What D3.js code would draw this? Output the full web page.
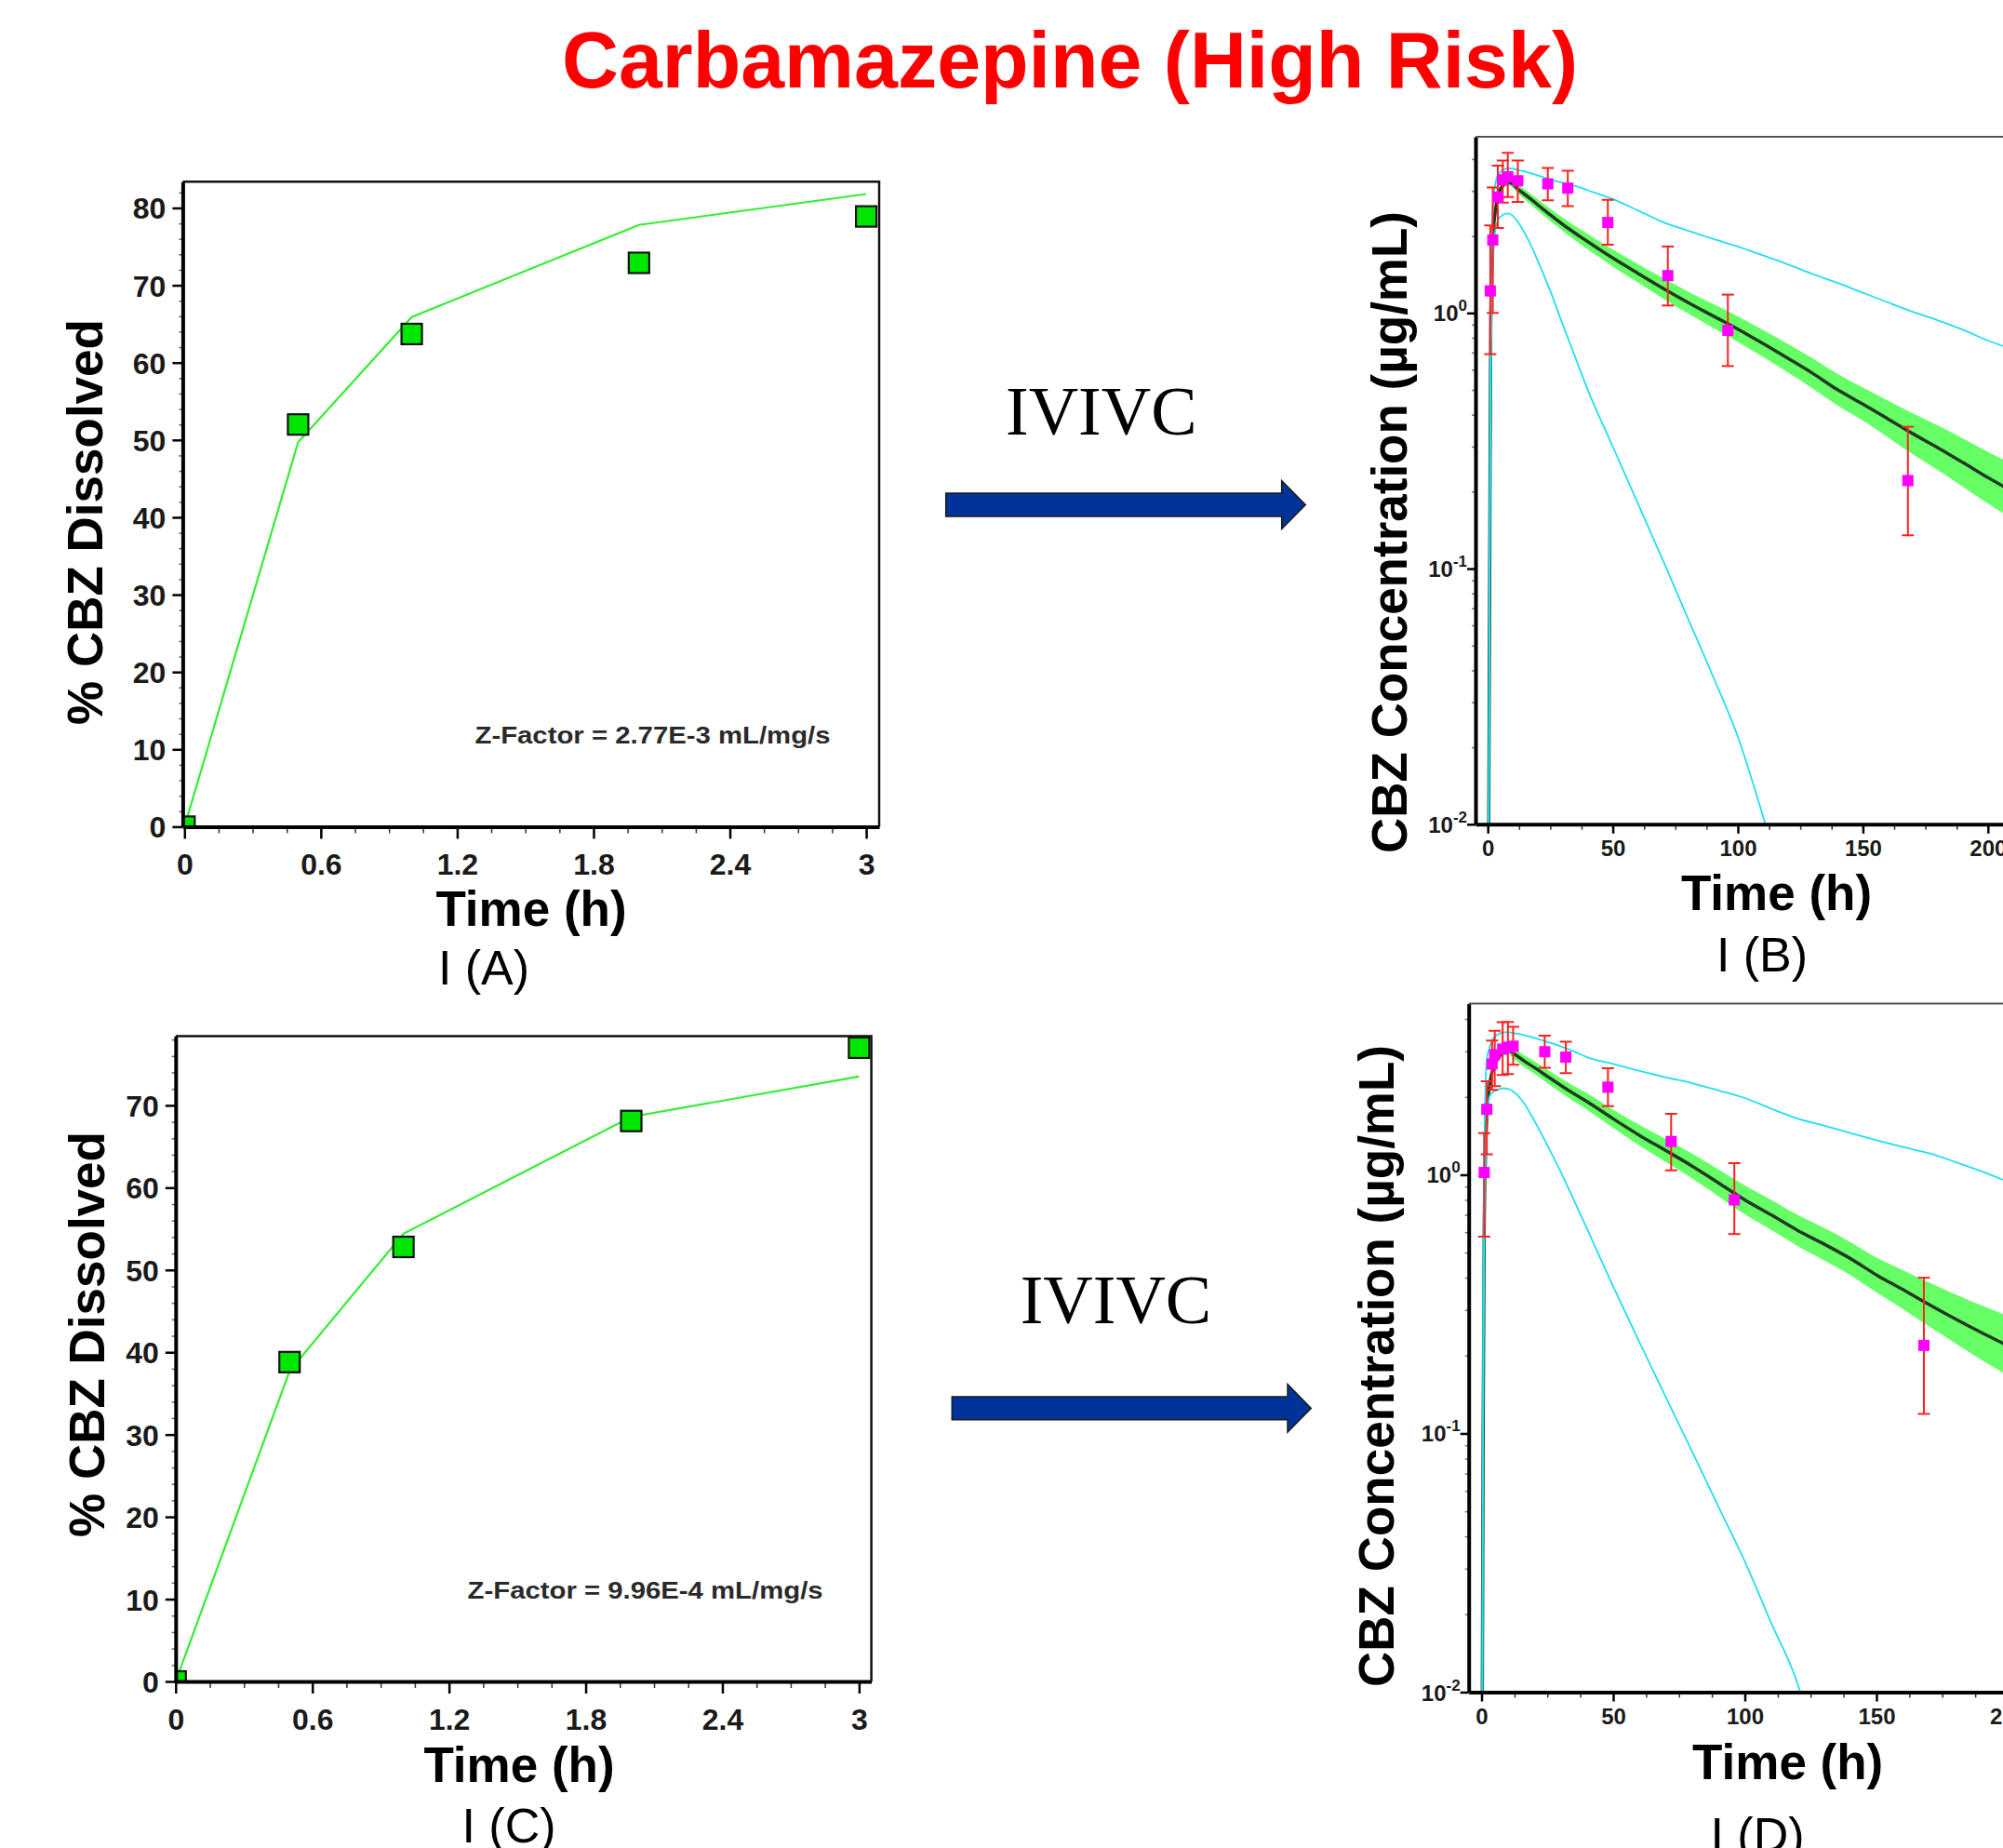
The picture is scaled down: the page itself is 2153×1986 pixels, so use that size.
<!DOCTYPE html>
<html><head><meta charset="utf-8">
<script src="https://cdn.jsdelivr.net/npm/d3@7"></script>
<style>html,body{margin:0;padding:0;background:#fff;overflow:hidden;}svg{display:block;}</style>
</head><body>
<svg id="c" width="2153" height="1986"></svg>
<script>
// ---------------- DATA ----------------
// Dissolution panels (A, C)
const dissTicks = [0, 0.6, 1.2, 1.8, 2.4, 3];
const dissTickLabels = ["0", "0.6", "1.2", "1.8", "2.4", "3"];
const dissObsTime = [0, 0.5, 1, 2, 3];
const dissObsA = [0, 52.0, 63.7, 72.9, 78.9];
const dissPredA = [0, 49.7, 65.9, 77.8, 81.8];
const dissObsC = [0, 38.8, 52.8, 68.1, 77.0];
const dissPredC = [0, 37.7, 54.4, 68.6, 73.5];
const yTicksA = [0, 10, 20, 30, 40, 50, 60, 70, 80];
const yTicksC = [0, 10, 20, 30, 40, 50, 60, 70];
const zFactorA = "Z-Factor = 2.77E-3 mL/mg/s";
const zFactorC = "Z-Factor = 9.96E-4 mL/mg/s";

// PK panels (B, D)
const pkTicks = [0, 50, 100, 150, 200];
const pkTickLabels = ["0", "50", "100", "150", "200"];
const pkDecades = [0.01, 0.1, 1];
const pkDecadeExp = ["-2", "-1", "0"];

// Panel B observed
const obsTimeB = [1, 2, 4, 6, 8, 12, 24, 32, 48, 72, 96, 168];
const obsB    = [1.22, 1.93, 2.84, 3.32, 3.41, 3.29, 3.20, 3.08, 2.26, 1.40, 0.855, 0.221];
const obsLoB  = [0.69, 1.00, 2.15, 2.70, 2.84, 2.72, 2.76, 2.62, 1.85, 1.07, 0.62, 0.135];
const obsHiB  = [2.20, 3.10, 3.77, 3.95, 4.23, 3.95, 3.69, 3.60, 2.77, 1.82, 1.18, 0.359];
// Panel B simulated
const simTimeB = [0.4,0.8,1.2,2,3,4,6,8,10,12,16,20,25,30,35,40,50,60,70,80,90,100,110,120,130,140,150,160,170,180,190,200,210,220];
const medB    = [0.01,0.12,0.9,1.9,2.5,2.85,3.15,3.25,3.2,3.06,2.85,2.65,2.42,2.22,2.05,1.9,1.64,1.43,1.25,1.10,0.975,0.865,0.76,0.665,0.58,0.5,0.44,0.385,0.337,0.297,0.26,0.227,0.2,0.176];
const bandHiB = [0.0102,0.123,0.932,1.967,2.588,2.95,3.261,3.364,3.312,3.189,2.984,2.788,2.557,2.357,2.187,2.036,1.769,1.554,1.371,1.215,1.086,0.971,0.859,0.757,0.664,0.577,0.511,0.454,0.405,0.363,0.323,0.286,0.256,0.229];
const bandLoB = [0.0098,0.117,0.869,1.836,2.415,2.753,3.043,3.14,3.091,2.936,2.722,2.519,2.29,2.091,1.922,1.773,1.52,1.316,1.14,0.996,0.875,0.771,0.673,0.585,0.506,0.434,0.379,0.326,0.280,0.243,0.209,0.180,0.156,0.135];
const upperB  = [0.01,0.2,1.3,2.6,3.2,3.45,3.62,3.68,3.67,3.63,3.55,3.45,3.33,3.23,3.14,3.02,2.79,2.52,2.27,2.1,1.95,1.82,1.68,1.55,1.42,1.31,1.2,1.1,1.01,0.935,0.86,0.78,0.72,0.665];
const lowTimeB = [0.4,0.8,1.2,2,3,4,6,8,10,12,16,20,25,30,35,40,50,60,70,80,90,100,110,112];
const lowerB  = [0.01,0.1,0.5,1.5,2.1,2.3,2.42,2.45,2.4,2.27,1.95,1.6,1.22,0.9,0.67,0.5,0.3,0.18,0.108,0.064,0.038,0.022,0.0108,0.0093];

// Panel D observed
const obsTimeD = [1, 2, 4, 5, 8, 10, 12, 24, 32, 48, 72, 96, 168];
const obsD    = [1.02, 1.79, 2.68, 2.91, 3.06, 3.11, 3.14, 2.99, 2.85, 2.18, 1.345, 0.80, 0.219];
const obsLoD  = [0.577, 1.2, 2.13, 2.2, 2.43, 2.45, 2.66, 2.59, 2.47, 1.84, 1.04, 0.59, 0.119];
const obsHiD  = [1.45, 2.3, 3.3, 3.6, 3.89, 3.9, 3.73, 3.45, 3.27, 2.58, 1.72, 1.11, 0.40];
// Panel D simulated
const simTimeD = [0.3,0.6,1,1.5,2,3,4,6,8,10,12,16,20,25,30,35,40,50,60,70,80,90,100,110,120,130,140,150,160,170,180,190,200,210];
const medD    = [0.01,0.1,0.6,1.2,1.7,2.2,2.5,2.8,2.97,3.03,2.95,2.76,2.6,2.4,2.22,2.06,1.92,1.645,1.42,1.24,1.08,0.93,0.80,0.70,0.61,0.54,0.475,0.41,0.36,0.315,0.277,0.245,0.218,0.193];
const bandHiD = [0.0104,0.1035,0.621,1.242,1.76,2.277,2.588,2.898,3.074,3.136,3.089,2.904,2.748,2.548,2.368,2.207,2.067,1.783,1.557,1.372,1.206,1.048,0.910,0.800,0.700,0.623,0.550,0.478,0.428,0.383,0.345,0.312,0.284,0.257];
const bandLoD = [0.0097,0.0966,0.58,1.159,1.642,2.125,2.415,2.705,2.869,2.927,2.817,2.624,2.46,2.261,2.081,1.923,1.784,1.518,1.295,1.121,0.967,0.825,0.703,0.612,0.531,0.468,0.41,0.351,0.303,0.259,0.223,0.192,0.167,0.145];
const upperD  = [0.01,0.3,1.2,2.2,2.8,3.1,3.3,3.48,3.55,3.56,3.53,3.47,3.38,3.26,3.14,3.0,2.85,2.68,2.52,2.38,2.26,2.12,1.98,1.8,1.65,1.55,1.45,1.36,1.28,1.21,1.12,1.03,0.94,0.87];
const lowTimeD = [0.3,0.6,1,1.5,2,3,4,6,8,10,12,16,20,25,30,35,40,50,60,70,80,90,100,110,120,122];
const lowerD  = [0.01,0.1,0.5,1.1,1.6,2.0,2.07,2.13,2.16,2.15,2.1,1.9,1.62,1.3,1.03,0.8,0.62,0.37,0.225,0.138,0.085,0.052,0.032,0.0185,0.0108,0.0093];

// ---------------- DRAWING ----------------
const SANS = "'Liberation Sans', Arial, Helvetica, sans-serif";
const SERIF = "'Liberation Serif', 'Times New Roman', serif";
const svg = d3.select('#c');
svg.append('rect').attr('width', 2153).attr('height', 1986).attr('fill', '#fff');

svg.append('text').attr('x', 1150).attr('y', 94).attr('text-anchor', 'middle')
  .attr('font-family', SANS).attr('font-weight', 'bold').attr('font-size', 86)
  .attr('textLength', 1092).attr('lengthAdjust', 'spacingAndGlyphs')
  .attr('fill', '#ff0000').text('Carbamazepine (High Risk)');

function titles(o) {
  svg.append('text').attr('x', o.xtX).attr('y', o.xtY).attr('text-anchor', 'middle')
    .attr('font-family', SANS).attr('font-weight', 'bold').attr('font-size', 53).attr('fill', '#000').text('Time (h)');
  svg.append('text').attr('x', o.subX).attr('y', o.subY).attr('text-anchor', 'middle')
    .attr('font-family', SANS).attr('font-size', 52).attr('fill', '#000').text(o.sub);
  svg.append('text').attr('transform', `translate(${o.ytX},${o.ytY}) rotate(-90)`).attr('text-anchor', 'middle')
    .attr('font-family', SANS).attr('font-weight', 'bold').attr('font-size', 53).attr('fill', '#000').text(o.yTitle);
}

function dissPanel(o) {
  const x = d3.scaleLinear().domain(o.xDom).range([o.left, o.right]);
  const y = d3.scaleLinear().domain(o.yDom).range([o.bottom, o.top]);
  const cid = 'clip' + o.id;
  svg.append('clipPath').attr('id', cid).append('rect')
    .attr('x', o.left).attr('y', o.top).attr('width', o.right - o.left).attr('height', o.bottom - o.top);
  const g = svg.append('g');
  g.append('path').datum(d3.zip(dissObsTime, o.pred)).attr('clip-path', `url(#${cid})`)
    .attr('d', d3.line().x(d => x(d[0])).y(d => y(d[1])))
    .attr('fill', 'none').attr('stroke', '#33ee33').attr('stroke-width', 2.2);
  g.append('g').attr('clip-path', `url(#${cid})`).selectAll('rect').data(d3.zip(dissObsTime, o.obs)).join('rect')
    .attr('x', d => x(d[0]) - 11).attr('y', d => y(d[1]) - 11).attr('width', 22).attr('height', 22)
    .attr('fill', '#00e600').attr('stroke', '#111').attr('stroke-width', 2.2);

  // minor ticks
  const xMinor = d3.range(0, 3.01, 0.15).filter(v => Math.abs(v / 0.6 - Math.round(v / 0.6)) > 1e-6);
  g.append('g').attr('transform', `translate(0,${o.bottom})`)
    .call(d3.axisBottom(x).tickValues(xMinor).tickSize(7).tickFormat(''))
    .call(s => { s.select('.domain').remove(); s.selectAll('line').attr('stroke', '#333').attr('stroke-width', 1.5); });
  const yMinor = d3.range(0, o.yDom[1], 2).filter(v => v % 10 !== 0);
  g.append('g').attr('transform', `translate(${o.left},0)`)
    .call(d3.axisLeft(y).tickValues(yMinor).tickSize(4).tickFormat(''))
    .call(s => { s.select('.domain').remove(); s.selectAll('line').attr('stroke', '#666').attr('stroke-width', 1.5); });

  const xa = g.append('g').attr('transform', `translate(0,${o.bottom})`)
    .call(d3.axisBottom(x).tickValues(dissTicks).tickFormat((d, i) => dissTickLabels[i]).tickSize(13).tickSizeOuter(0));
  xa.select('.domain').attr('stroke', '#000').attr('stroke-width', 4);
  xa.selectAll('.tick line').attr('stroke', '#000').attr('stroke-width', 2.5);
  xa.selectAll('text').attr('y', 52).attr('dy', null).attr('font-family', SANS).attr('font-weight', 'bold')
    .attr('font-size', 32).attr('fill', '#1a1a1a');

  const ya = g.append('g').attr('transform', `translate(${o.left},0)`)
    .call(d3.axisLeft(y).tickValues(o.yTicks).tickFormat(d3.format('d')).tickSize(11).tickSizeOuter(0));
  ya.select('.domain').attr('stroke', '#000').attr('stroke-width', 4);
  ya.selectAll('.tick line').attr('stroke', '#000').attr('stroke-width', 2.5);
  ya.selectAll('text').attr('x', -18).attr('dy', '0.36em').attr('font-family', SANS).attr('font-weight', 'bold')
    .attr('font-size', 32).attr('fill', '#1a1a1a');

  g.append('path').attr('d', `M${o.left},${o.top}H${o.right}V${o.bottom}`)
    .attr('fill', 'none').attr('stroke', '#111').attr('stroke-width', 2.5);

  svg.append('text').attr('x', o.zX).attr('y', o.zY).attr('font-family', SANS).attr('font-weight', 'bold')
    .attr('font-size', 25).attr('textLength', 382).attr('lengthAdjust', 'spacingAndGlyphs')
    .attr('fill', '#2a2a2a').text(o.zText);
  titles(o);
}

function pkPanel(o) {
  const xmax = 240;
  const x = d3.scaleLinear().domain([o.xmin, xmax]).range([o.left, o.left + (xmax - o.xmin) * o.pxPerH]);
  const y = d3.scaleLog().domain([0.01, o.ymax]).range([o.bottom, o.top]);
  const right = x(xmax);
  const cid = 'clip' + o.id;
  svg.append('clipPath').attr('id', cid).append('rect')
    .attr('x', o.left).attr('y', o.top).attr('width', right - o.left).attr('height', o.bottom - o.top);
  const g = svg.append('g').attr('clip-path', `url(#${cid})`);

  const band = d3.range(o.simT.length).map(i => [o.simT[i], o.lo[i], o.hi[i]]);
  g.append('path').datum(band)
    .attr('d', d3.area().x(d => x(d[0])).y0(d => y(d[1])).y1(d => y(d[2])).curve(d3.curveMonotoneX))
    .attr('fill', '#66ff66');
  g.append('path').datum(d3.zip(o.simT, o.med))
    .attr('d', d3.line().x(d => x(d[0])).y(d => y(d[1])).curve(d3.curveMonotoneX))
    .attr('fill', 'none').attr('stroke', '#1f3a1f').attr('stroke-width', 3.5);
  g.append('path').datum(d3.zip(o.simT, o.up))
    .attr('d', d3.line().x(d => x(d[0])).y(d => y(d[1])).curve(d3.curveMonotoneX))
    .attr('fill', 'none').attr('stroke', '#22dfee').attr('stroke-width', 1.8);
  g.append('path').datum(d3.zip(o.lowT, o.low))
    .attr('d', d3.line().x(d => x(d[0])).y(d => y(d[1])).curve(d3.curveMonotoneX))
    .attr('fill', 'none').attr('stroke', '#22dfee').attr('stroke-width', 1.8);

  const obs = d3.range(o.obsT.length).map(i => ({t: o.obsT[i], v: o.obs[i], lo: o.obsLo[i], hi: o.obsHi[i]}));
  const eb = g.append('g').attr('stroke', '#ff2020').attr('stroke-width', 2);
  eb.selectAll('line.s').data(obs).join('line').attr('class', 's')
    .attr('x1', d => x(d.t)).attr('x2', d => x(d.t)).attr('y1', d => y(d.lo)).attr('y2', d => y(d.hi));
  eb.selectAll('line.a').data(obs).join('line').attr('class', 'a')
    .attr('x1', d => x(d.t) - 6.5).attr('x2', d => x(d.t) + 6.5).attr('y1', d => y(d.hi)).attr('y2', d => y(d.hi));
  eb.selectAll('line.b').data(obs).join('line').attr('class', 'b')
    .attr('x1', d => x(d.t) - 6.5).attr('x2', d => x(d.t) + 6.5).attr('y1', d => y(d.lo)).attr('y2', d => y(d.lo));
  g.append('g').selectAll('rect').data(obs).join('rect')
    .attr('x', d => x(d.t) - 6).attr('y', d => y(d.v) - 6).attr('width', 12).attr('height', 12)
    .attr('fill', '#ff00ff');

  // axes
  const a = svg.append('g');
  const xMinor = d3.range(0, xmax + 0.1, 12.5).filter(v => v % 50 !== 0);
  a.append('g').attr('transform', `translate(0,${o.bottom})`)
    .call(d3.axisBottom(x).tickValues(xMinor).tickSize(6).tickFormat(''))
    .call(s => { s.select('.domain').remove(); s.selectAll('line').attr('stroke', '#333').attr('stroke-width', 1.5); });
  const xa = a.append('g').attr('transform', `translate(0,${o.bottom})`)
    .call(d3.axisBottom(x).tickValues(pkTicks).tickFormat((d, i) => pkTickLabels[i]).tickSize(10).tickSizeOuter(0));
  xa.select('.domain').attr('stroke', '#000').attr('stroke-width', 4);
  xa.selectAll('.tick line').attr('stroke', '#000').attr('stroke-width', 2.5);
  xa.selectAll('text').attr('y', 34).attr('dy', null).attr('font-family', SANS).attr('font-weight', 'bold')
    .attr('font-size', 24).attr('fill', '#1a1a1a');

  const yMinor = [];
  pkDecades.forEach(dv => { for (let k = 2; k <= 9; k++) { if (k * dv <= o.ymax) yMinor.push(k * dv); } });
  a.append('g').attr('transform', `translate(${o.left},0)`)
    .call(d3.axisLeft(y).tickValues(yMinor).tickSize(4).tickFormat(''))
    .call(s => { s.select('.domain').remove(); s.selectAll('line').attr('stroke', '#777').attr('stroke-width', 1.5); });
  const ya = a.append('g').attr('transform', `translate(${o.left},0)`)
    .call(d3.axisLeft(y).tickValues(pkDecades).tickFormat('').tickSize(9).tickSizeOuter(0));
  ya.select('.domain').attr('stroke', '#000').attr('stroke-width', 4);
  ya.selectAll('.tick line').attr('stroke', '#000').attr('stroke-width', 2.5);
  pkDecades.forEach((dv, i) => {
    const t = a.append('text').attr('x', o.left - 9).attr('y', y(dv) + 9).attr('text-anchor', 'end')
      .attr('font-family', SANS).attr('font-weight', 'bold').attr('fill', '#1a1a1a');
    t.append('tspan').attr('font-size', 24).text('10');
    t.append('tspan').attr('font-size', 17).attr('dy', -11).text(pkDecadeExp[i]);
  });
  a.append('line').attr('x1', o.left).attr('x2', right).attr('y1', o.top).attr('y2', o.top)
    .attr('stroke', '#555').attr('stroke-width', 2);
  titles(o);
}

dissPanel({id: 'A', xDom: [-0.0078, 3.057], yDom: [0, 83.4], left: 196.4, right: 945, top: 195.2, bottom: 888.4,
  obs: dissObsA, pred: dissPredA, yTicks: yTicksA, zText: zFactorA, zX: 510.5, zY: 799,
  xtX: 571, xtY: 995, sub: 'I (A)', subX: 520, subY: 1058, ytX: 110, ytY: 561, yTitle: '% CBZ Dissolved'});
dissPanel({id: 'C', xDom: [0, 3.054], yDom: [0, 78.4], left: 188.8, right: 936.6, top: 1113.6, bottom: 1807,
  obs: dissObsC, pred: dissPredC, yTicks: yTicksC, zText: zFactorC, zX: 502.6, zY: 1718,
  xtX: 558, xtY: 1915, sub: 'I (C)', subX: 547, subY: 1980, ytX: 111.5, ytY: 1434, yTitle: '% CBZ Dissolved'});

pkPanel({id: 'B', left: 1586, xmin: -4.91, pxPerH: 2.688, top: 147, bottom: 885.8, ymax: 4.89,
  simT: simTimeB, med: medB, lo: bandLoB, hi: bandHiB, up: upperB, lowT: lowTimeB, low: lowerB,
  obsT: obsTimeB, obs: obsB, obsLo: obsLoB, obsHi: obsHiB,
  xtX: 1909.5, xtY: 978, sub: 'I (B)', subX: 1894, subY: 1043.5, ytX: 1512, ytY: 572, yTitle: 'CBZ Concentration (µg/mL)'});
pkPanel({id: 'D', left: 1578.7, xmin: -4.88, pxPerH: 2.83, top: 1078.5, bottom: 1818.5, ymax: 4.59,
  simT: simTimeD, med: medD, lo: bandLoD, hi: bandHiD, up: upperD, lowT: lowTimeD, low: lowerD,
  obsT: obsTimeD, obs: obsD, obsLo: obsLoD, obsHi: obsHiD,
  xtX: 1921.7, xtY: 1911.5, sub: 'I (D)', subX: 1889, subY: 1990, ytX: 1498, ytY: 1468, yTitle: 'CBZ Concentration (µg/mL)'});

// IVIVC annotations with arrows
const arrows = [
  {label: 'IVIVC', tx: 1081, ty: 467, x0: 1016.7, xh: 1377.7, xt: 1403.3, yc: 542.5, bh: 12.5, hh: 26},
  {label: 'IVIVC', tx: 1096.7, ty: 1421.7, x0: 1023.3, xh: 1384, xt: 1409.3, yc: 1513.4, bh: 12.4, hh: 25.7}
];
arrows.forEach(a => {
  svg.append('text').attr('x', a.tx).attr('y', a.ty).attr('font-family', SERIF).attr('font-size', 74)
    .attr('fill', '#000').text(a.label);
  const p = d3.path();
  p.moveTo(a.x0, a.yc - a.bh); p.lineTo(a.xh, a.yc - a.bh); p.lineTo(a.xh, a.yc - a.hh);
  p.lineTo(a.xt, a.yc); p.lineTo(a.xh, a.yc + a.hh); p.lineTo(a.xh, a.yc + a.bh);
  p.lineTo(a.x0, a.yc + a.bh); p.closePath();
  svg.append('path').attr('d', p.toString()).attr('fill', '#003399').attr('stroke', '#1a1a1a').attr('stroke-width', 1.5);
});
</script>
</body></html>
